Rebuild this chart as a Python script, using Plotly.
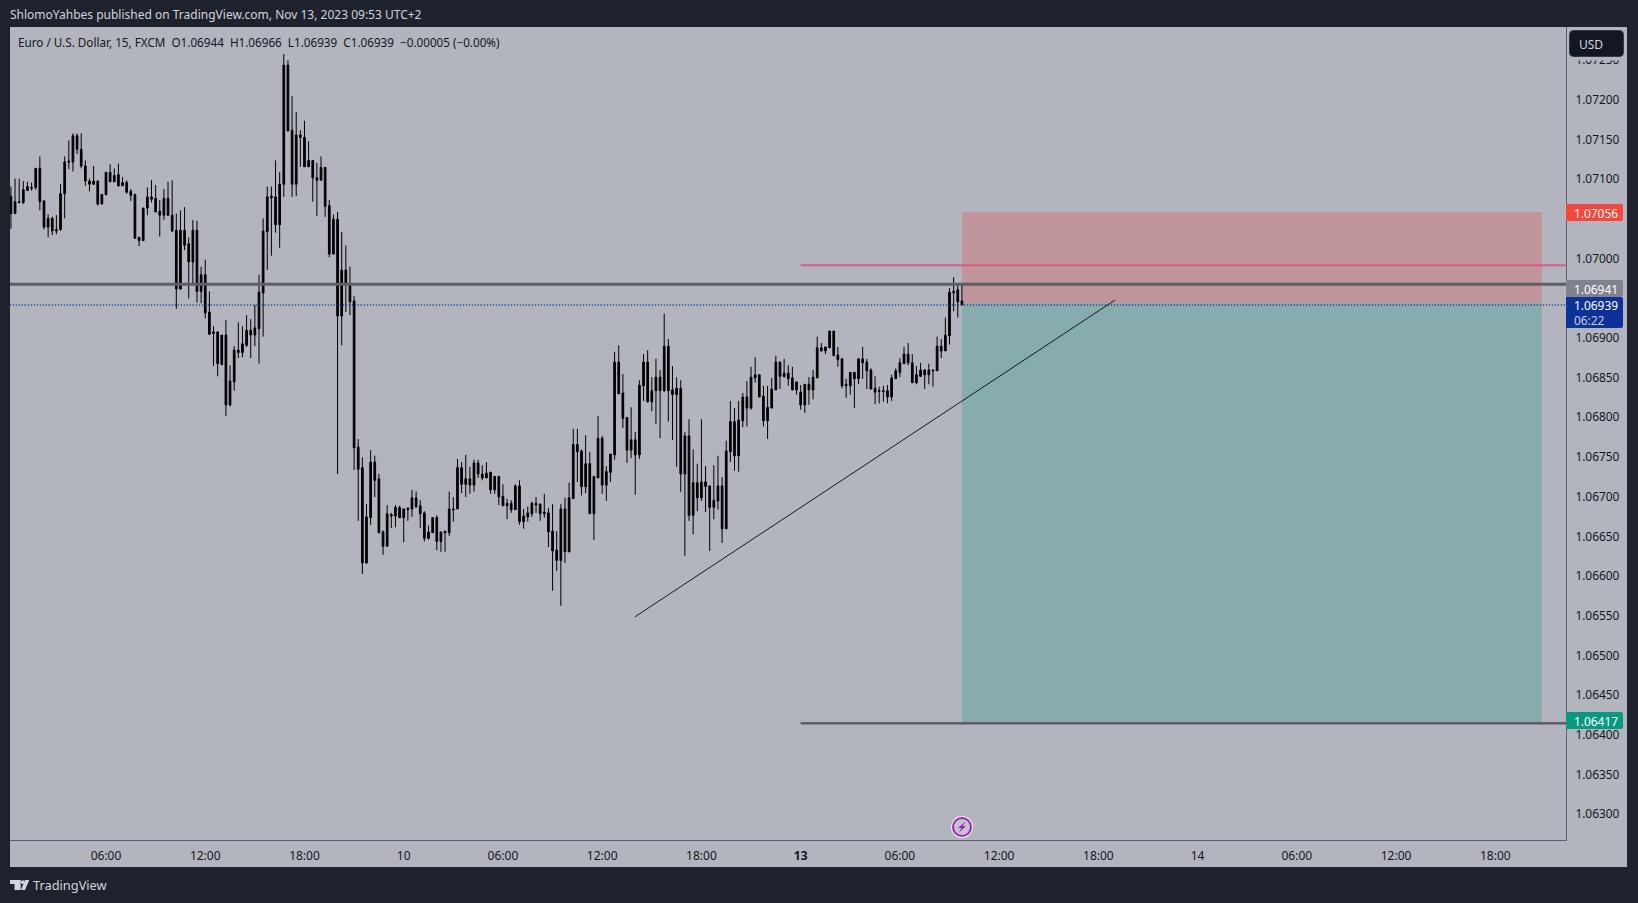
import plotly.graph_objects as go

# every candle on the source chart is black, so only the body edges can be read, not the direction
high = [
    1.07088, 1.07098, 1.07098, 1.07095, 1.07094, 1.07093, 1.07111, 1.07126, 1.07070, 1.07053,
    1.07050, 1.07052, 1.07091, 1.07126, 1.07146, 1.07155, 1.07155, 1.07155, 1.07121, 1.07098,
    1.07114, 1.07096, 1.07078, 1.07106, 1.07116, 1.07111, 1.07117, 1.07100, 1.07096, 1.07085,
    1.07079, 1.07025, 1.07061, 1.07087, 1.07096, 1.07090, 1.07071, 1.07085, 1.07094, 1.07096,
    1.07054, 1.07058, 1.07062, 1.07024, 1.07046, 1.07045, 1.06987, 1.06996, 1.06956, 1.06912,
    1.06905, 1.06901, 1.06920, 1.06863, 1.06887, 1.06917, 1.06912, 1.06926, 1.06921, 1.06939,
    1.06977, 1.07048, 1.07088, 1.07088, 1.07121, 1.07106, 1.07255, 1.07247, 1.07202, 1.07182,
    1.07159, 1.07171, 1.07145, 1.07121, 1.07118, 1.07126, 1.07113, 1.07071, 1.07053, 1.07056,
    1.07031, 1.07014, 1.06987, 1.06950, 1.06770, 1.06747, 1.06688, 1.06756, 1.06749, 1.06726,
    1.06655, 1.06687, 1.06677, 1.06687, 1.06686, 1.06682, 1.06684, 1.06706, 1.06704, 1.06693,
    1.06679, 1.06661, 1.06671, 1.06674, 1.06653, 1.06654, 1.06704, 1.06697, 1.06745, 1.06741,
    1.06750, 1.06735, 1.06744, 1.06744, 1.06737, 1.06741, 1.06729, 1.06723, 1.06723, 1.06713,
    1.06695, 1.06693, 1.06713, 1.06718, 1.06682, 1.06685, 1.06691, 1.06697, 1.06689, 1.06701,
    1.06683, 1.06688, 1.06654, 1.06688, 1.06696, 1.06715, 1.06783, 1.06783, 1.06757, 1.06775,
    1.06754, 1.06723, 1.06799, 1.06774, 1.06736, 1.06751, 1.06880, 1.06888, 1.06852, 1.06798,
    1.06810, 1.06779, 1.06844, 1.06877, 1.06882, 1.06848, 1.06871, 1.06857, 1.06928, 1.06896,
    1.06862, 1.06848, 1.06844, 1.06779, 1.06795, 1.06757, 1.06739, 1.06795, 1.06736, 1.06711,
    1.06737, 1.06749, 1.06722, 1.06768, 1.06818, 1.06809, 1.06818, 1.06828, 1.06843, 1.06861,
    1.06873, 1.06851, 1.06837, 1.06837, 1.06847, 1.06875, 1.06867, 1.06871, 1.06863, 1.06861,
    1.06842, 1.06838, 1.06839, 1.06848, 1.06857, 1.06899, 1.06891, 1.06886, 1.06906, 1.06906,
    1.06886, 1.06872, 1.06846, 1.06854, 1.06854, 1.06871, 1.06886, 1.06871, 1.06859, 1.06849,
    1.06836, 1.06837, 1.06838, 1.06851, 1.06859, 1.06872, 1.06886, 1.06891, 1.06877, 1.06862,
    1.06866, 1.06858, 1.06865, 1.06858, 1.06899, 1.06896, 1.06923, 1.06960, 1.06974, 1.06965,
    1.06966,
]
body_top = [
    1.07076, 1.07069, 1.07069, 1.07084, 1.07088, 1.07087, 1.07111, 1.07111, 1.07070, 1.07048,
    1.07048, 1.07034, 1.07079, 1.07119, 1.07120, 1.07152, 1.07152, 1.07135, 1.07114, 1.07095,
    1.07095, 1.07095, 1.07078, 1.07106, 1.07106, 1.07102, 1.07103, 1.07093, 1.07093, 1.07082,
    1.07078, 1.07024, 1.07061, 1.07075, 1.07075, 1.07073, 1.07057, 1.07073, 1.07073, 1.07052,
    1.07033, 1.07033, 1.07033, 1.07016, 1.07033, 1.07033, 1.06977, 1.06977, 1.06930, 1.06905,
    1.06905, 1.06901, 1.06901, 1.06843, 1.06882, 1.06882, 1.06890, 1.06907, 1.06907, 1.06910,
    1.06955, 1.07032, 1.07075, 1.07076, 1.07075, 1.07091, 1.07241, 1.07241, 1.07159, 1.07153,
    1.07153, 1.07150, 1.07121, 1.07121, 1.07099, 1.07112, 1.07112, 1.07064, 1.07047, 1.07047,
    1.06983, 1.06983, 1.06965, 1.06944, 1.06760, 1.06734, 1.06672, 1.06741, 1.06741, 1.06720,
    1.06653, 1.06676, 1.06675, 1.06684, 1.06684, 1.06682, 1.06683, 1.06696, 1.06696, 1.06686,
    1.06677, 1.06653, 1.06671, 1.06671, 1.06653, 1.06654, 1.06682, 1.06682, 1.06734, 1.06734,
    1.06720, 1.06720, 1.06740, 1.06740, 1.06726, 1.06727, 1.06728, 1.06723, 1.06723, 1.06698,
    1.06689, 1.06689, 1.06711, 1.06711, 1.06673, 1.06677, 1.06689, 1.06689, 1.06688, 1.06678,
    1.06677, 1.06654, 1.06630, 1.06682, 1.06682, 1.06696, 1.06763, 1.06763, 1.06755, 1.06739,
    1.06739, 1.06723, 1.06771, 1.06771, 1.06729, 1.06751, 1.06867, 1.06867, 1.06828, 1.06797,
    1.06769, 1.06769, 1.06838, 1.06867, 1.06867, 1.06831, 1.06848, 1.06848, 1.06887, 1.06887,
    1.06832, 1.06834, 1.06834, 1.06774, 1.06774, 1.06715, 1.06715, 1.06716, 1.06716, 1.06711,
    1.06693, 1.06711, 1.06711, 1.06755, 1.06792, 1.06792, 1.06794, 1.06823, 1.06823, 1.06848,
    1.06851, 1.06851, 1.06824, 1.06810, 1.06833, 1.06867, 1.06867, 1.06853, 1.06853, 1.06847,
    1.06842, 1.06829, 1.06839, 1.06839, 1.06848, 1.06885, 1.06885, 1.06886, 1.06906, 1.06906,
    1.06876, 1.06871, 1.06839, 1.06854, 1.06854, 1.06871, 1.06871, 1.06867, 1.06857, 1.06834,
    1.06831, 1.06831, 1.06831, 1.06847, 1.06856, 1.06866, 1.06877, 1.06877, 1.06866, 1.06851,
    1.06857, 1.06857, 1.06857, 1.06857, 1.06887, 1.06887, 1.06901, 1.06955, 1.06956, 1.06958,
    1.06944,
]
body_bottom = [
    1.07054, 1.07054, 1.07068, 1.07068, 1.07083, 1.07086, 1.07087, 1.07069, 1.07037, 1.07037,
    1.07032, 1.07032, 1.07034, 1.07079, 1.07119, 1.07119, 1.07135, 1.07114, 1.07095, 1.07091,
    1.07091, 1.07066, 1.07066, 1.07078, 1.07094, 1.07094, 1.07089, 1.07089, 1.07081, 1.07077,
    1.07023, 1.07020, 1.07020, 1.07061, 1.07072, 1.07056, 1.07052, 1.07052, 1.07052, 1.07032,
    1.06959, 1.06959, 1.07014, 1.06993, 1.06993, 1.06956, 1.06956, 1.06929, 1.06902, 1.06903,
    1.06865, 1.06864, 1.06813, 1.06813, 1.06842, 1.06879, 1.06879, 1.06888, 1.06901, 1.06901,
    1.06909, 1.06954, 1.07031, 1.07074, 1.07040, 1.07040, 1.07091, 1.07158, 1.07091, 1.07091,
    1.07150, 1.07113, 1.07113, 1.07099, 1.07096, 1.07096, 1.07063, 1.07003, 1.07003, 1.06925,
    1.06925, 1.06964, 1.06943, 1.06759, 1.06732, 1.06614, 1.06614, 1.06671, 1.06718, 1.06652,
    1.06635, 1.06635, 1.06673, 1.06673, 1.06671, 1.06671, 1.06681, 1.06682, 1.06685, 1.06676,
    1.06645, 1.06645, 1.06652, 1.06641, 1.06641, 1.06652, 1.06652, 1.06681, 1.06682, 1.06713,
    1.06713, 1.06712, 1.06712, 1.06726, 1.06721, 1.06721, 1.06706, 1.06706, 1.06697, 1.06686,
    1.06686, 1.06681, 1.06681, 1.06666, 1.06666, 1.06672, 1.06676, 1.06687, 1.06676, 1.06676,
    1.06653, 1.06629, 1.06617, 1.06617, 1.06628, 1.06628, 1.06695, 1.06754, 1.06710, 1.06710,
    1.06676, 1.06676, 1.06721, 1.06712, 1.06712, 1.06728, 1.06750, 1.06827, 1.06796, 1.06756,
    1.06756, 1.06750, 1.06750, 1.06837, 1.06817, 1.06817, 1.06831, 1.06831, 1.06831, 1.06831,
    1.06826, 1.06826, 1.06726, 1.06726, 1.06674, 1.06674, 1.06696, 1.06696, 1.06710, 1.06684,
    1.06684, 1.06692, 1.06657, 1.06657, 1.06754, 1.06749, 1.06749, 1.06793, 1.06809, 1.06809,
    1.06847, 1.06823, 1.06793, 1.06793, 1.06809, 1.06832, 1.06849, 1.06849, 1.06846, 1.06832,
    1.06832, 1.06813, 1.06813, 1.06832, 1.06832, 1.06847, 1.06881, 1.06881, 1.06885, 1.06875,
    1.06870, 1.06837, 1.06837, 1.06837, 1.06846, 1.06846, 1.06866, 1.06856, 1.06833, 1.06829,
    1.06830, 1.06830, 1.06823, 1.06823, 1.06846, 1.06854, 1.06865, 1.06866, 1.06841, 1.06841,
    1.06849, 1.06851, 1.06851, 1.06856, 1.06856, 1.06881, 1.06881, 1.06900, 1.06954, 1.06943,
    1.06939,
]
low = [
    1.07035, 1.07054, 1.07067, 1.07066, 1.07083, 1.07083, 1.07084, 1.07058, 1.07034, 1.07024,
    1.07027, 1.07028, 1.07032, 1.07048, 1.07110, 1.07107, 1.07129, 1.07111, 1.07089, 1.07082,
    1.07090, 1.07064, 1.07066, 1.07077, 1.07094, 1.07094, 1.07088, 1.07089, 1.07079, 1.07070,
    1.07022, 1.07013, 1.07020, 1.07052, 1.07068, 1.07056, 1.07025, 1.07046, 1.07051, 1.07031,
    1.06934, 1.06958, 1.07008, 1.06947, 1.06964, 1.06942, 1.06941, 1.06922, 1.06901, 1.06862,
    1.06849, 1.06863, 1.06799, 1.06811, 1.06831, 1.06872, 1.06873, 1.06886, 1.06872, 1.06887,
    1.06865, 1.06899, 1.06983, 1.07001, 1.07030, 1.07011, 1.07075, 1.07158, 1.07075, 1.07076,
    1.07113, 1.07113, 1.07113, 1.07069, 1.07051, 1.07096, 1.07050, 1.06999, 1.07003, 1.06726,
    1.06888, 1.06930, 1.06926, 1.06731, 1.06667, 1.06600, 1.06613, 1.06662, 1.06697, 1.06652,
    1.06624, 1.06635, 1.06658, 1.06659, 1.06671, 1.06640, 1.06667, 1.06672, 1.06683, 1.06658,
    1.06641, 1.06643, 1.06652, 1.06630, 1.06628, 1.06628, 1.06648, 1.06666, 1.06682, 1.06702,
    1.06697, 1.06701, 1.06704, 1.06721, 1.06718, 1.06721, 1.06701, 1.06701, 1.06687, 1.06686,
    1.06669, 1.06677, 1.06681, 1.06662, 1.06657, 1.06666, 1.06672, 1.06677, 1.06667, 1.06671,
    1.06634, 1.06579, 1.06604, 1.06560, 1.06614, 1.06628, 1.06695, 1.06716, 1.06699, 1.06702,
    1.06676, 1.06643, 1.06721, 1.06701, 1.06692, 1.06716, 1.06744, 1.06827, 1.06784, 1.06740,
    1.06746, 1.06700, 1.06745, 1.06818, 1.06816, 1.06805, 1.06789, 1.06771, 1.06829, 1.06792,
    1.06769, 1.06735, 1.06703, 1.06623, 1.06667, 1.06650, 1.06679, 1.06692, 1.06678, 1.06629,
    1.06669, 1.06681, 1.06639, 1.06657, 1.06741, 1.06730, 1.06729, 1.06785, 1.06786, 1.06807,
    1.06841, 1.06823, 1.06786, 1.06770, 1.06809, 1.06832, 1.06833, 1.06847, 1.06837, 1.06831,
    1.06826, 1.06807, 1.06803, 1.06813, 1.06820, 1.06847, 1.06880, 1.06877, 1.06885, 1.06875,
    1.06861, 1.06834, 1.06822, 1.06826, 1.06809, 1.06839, 1.06846, 1.06833, 1.06833, 1.06814,
    1.06815, 1.06817, 1.06815, 1.06818, 1.06846, 1.06848, 1.06865, 1.06863, 1.06841, 1.06839,
    1.06848, 1.06833, 1.06839, 1.06836, 1.06856, 1.06872, 1.06881, 1.06889, 1.06931, 1.06923,
    1.06939,
]
bars = list(range(len(high)))

time_ticks = [23, 47, 71, 95, 119, 143, 167, 191, 215, 239, 263, 287, 311, 335, 359]
time_labels = ['06:00', '12:00', '18:00', '10', '06:00', '12:00', '18:00', '<b>13</b>',
               '06:00', '12:00', '18:00', '14', '06:00', '12:00', '18:00']
# 1.06950 and 1.07050 sit behind the position labels on the source, so they are left out
price_ticks = [1.063, 1.0635, 1.064, 1.0645, 1.065, 1.0655, 1.066, 1.0665, 1.067, 1.0675,
               1.068, 1.0685, 1.069, 1.07, 1.071, 1.0715, 1.072, 1.0725]

take_profit = 1.06412
entry = 1.06941
stop_loss = 1.07056
last_price = 1.06939
grey_level = 1.06965
pink_level = 1.06989
position_start = 230
position_end = 370.3
level_start = 191
trend_x = [150.9, 267]
trend_y = [1.06546, 1.06945]

BG = '#b2b5be'
DARK = '#1e222d'
TEXT = '#131722'
FONT = 'Noto Sans'

L, R, T, B = 10, 1566, 27, 840


def px(x):
    return (x - L) / (R - L)


def py(y):
    return (B - y) / (B - T)


def label_path(x0, y0, x1, y1, r=2):
    return (f'M {px(x0)} {py(y0)} L {px(x1 - r)} {py(y0)} '
            f'Q {px(x1)} {py(y0)} {px(x1)} {py(y0 + r)} '
            f'L {px(x1)} {py(y1 - r)} Q {px(x1)} {py(y1)} {px(x1 - r)} {py(y1)} '
            f'L {px(x0)} {py(y1)} Z')


def round_path(x0, y0, x1, y1, r=4):
    return (f'M {px(x0 + r)} {py(y0)} L {px(x1 - r)} {py(y0)} '
            f'Q {px(x1)} {py(y0)} {px(x1)} {py(y0 + r)} '
            f'L {px(x1)} {py(y1 - r)} Q {px(x1)} {py(y1)} {px(x1 - r)} {py(y1)} '
            f'L {px(x0 + r)} {py(y1)} Q {px(x0)} {py(y1)} {px(x0)} {py(y1 - r)} '
            f'L {px(x0)} {py(y0 + r)} Q {px(x0)} {py(y0)} {px(x0 + r)} {py(y0)} Z')


def poly_path(points):
    return 'M ' + ' L '.join(f'{px(x)} {py(y)}' for x, y in points) + ' Z'


def paper_path(path, color, line='rgba(0,0,0,0)', width=0, layer='above'):
    return dict(type='path', xref='paper', yref='paper', path=path, fillcolor=color,
                line=dict(color=line, width=width), layer=layer)


def paper_rect(x0, y0, x1, y1, color, layer='below'):
    return dict(type='rect', xref='paper', yref='paper', x0=px(x0), x1=px(x1), y0=py(y0), y1=py(y1),
                fillcolor=color, line=dict(width=0), layer=layer)


def level(y, x0, x1, color, width, dash='solid'):
    return dict(type='line', xref='x', yref='y', x0=x0, x1=x1, y0=y, y1=y,
                line=dict(color=color, width=width, dash=dash), layer='above')


def text(x, y, s, color=TEXT, size=12, anchor='left'):
    return dict(xref='paper', yref='paper', x=px(x), y=py(y), text=s, showarrow=False,
                xanchor=anchor, yanchor='middle', font=dict(family=FONT, size=size, color=color),
                borderpad=0, borderwidth=0)


fig = go.Figure()
fig.add_trace(go.Candlestick(
    x=bars, open=body_top, high=high, low=low, close=body_bottom,
    increasing=dict(line=dict(color='#000000', width=1), fillcolor='#000000'),
    decreasing=dict(line=dict(color='#000000', width=1), fillcolor='#000000'),
    whiskerwidth=0, showlegend=False, hoverinfo='skip'))

shapes = [
    paper_rect(R, T, 1627, 867, BG),
    paper_rect(L, B, 1627, 867, BG),
    dict(type='rect', xref='x', yref='y', x0=position_start, x1=position_end, y0=entry, y1=stop_loss,
         fillcolor='#c09599', line=dict(width=0), layer='below'),
    dict(type='rect', xref='x', yref='y', x0=position_start, x1=position_end, y0=take_profit, y1=entry,
         fillcolor='#86acae', line=dict(width=0), layer='below'),
    level(last_price, -1, 376.1, '#0a2a90', 1.5, '1px,2px'),
    level(grey_level, -1, 376.1, '#5d5e66', 3),
    level(pink_level, level_start, 376.1, '#dc5a85', 2),
    level(take_profit, level_start, 376.1, '#5d5e66', 2.5),
    dict(type='line', xref='x', yref='y', x0=trend_x[0], x1=trend_x[1], y0=trend_y[0], y1=trend_y[1],
         line=dict(color='#16181f', width=1), layer='above'),
    # price axis labels
    paper_path(label_path(R, 204, 1623, 221), '#f7463c'),
    paper_path(label_path(R, 280, 1623, 297), '#80828d'),
    paper_path(label_path(R, 297, 1623, 328), '#0c3299'),
    paper_path(label_path(R, 712, 1623, 729), '#089981'),
    # strip around the currency button, hides most of the 1.07250 tick
    paper_rect(R + 1, T, 1627, 60.5, BG, layer='above'),
    paper_path(round_path(1569.5, 30.5, 1623.5, 56.5), '#131722', '#363a45', 1),
    # event marker
    dict(type='circle', xref='paper', yref='paper', x0=px(951), x1=px(973), y0=py(838), y1=py(816),
         fillcolor='#f0eef3', line=dict(width=0), layer='above'),
    dict(type='circle', xref='paper', yref='paper', x0=px(953), x1=px(971), y0=py(836), y1=py(818),
         fillcolor='#c4c3cf', line=dict(color='#9c27b0', width=2), layer='above'),
    paper_path(poly_path([(966, 821), (958, 828), (961.5, 828), (958.5, 833), (966, 826), (962.5, 826)]), '#9c27b0'),
    # TradingView mark
    paper_path(poly_path([(10, 880), (20.7, 880), (20.7, 890), (14.5, 890), (14.5, 884), (10, 884)]), '#d1d4dc', layer='below'),
    dict(type='circle', xref='paper', yref='paper', x0=px(20.8), x1=px(24.6), y0=py(884), y1=py(880.2),
         fillcolor='#d1d4dc', line=dict(width=0), layer='below'),
    paper_path(poly_path([(25, 880), (29.3, 880), (25, 890), (20.9, 890)]), '#d1d4dc', layer='below'),
]

annotations = [
    text(10, 15, 'ShlomoYahbes published on TradingView.com, Nov 13, 2023 09:53 UTC+2', '#d1d4dc'),
    text(18, 42.5, 'Euro / U.S. Dollar, 15, FXCM&#160;&#160;O1.06944&#160;&#160;H1.06966&#160;&#160;'
                   'L1.06939&#160;&#160;C1.06939&#160;&#160;−0.00005 (−0.00%)', size=11.7),
    text(1579, 44, 'USD', '#d1d4dc'),
    text(1574, 212.5, '1.07056', '#ffffff', 11.9),
    text(1574, 288.5, '1.06941', '#ffffff', 11.9),
    text(1574, 305, '1.06939', '#ffffff', 11.9),
    text(1574, 319.5, '06:22', '#c5cfe8', 11.9),
    text(1574, 720.5, '1.06417', '#ffffff', 11.9),
    text(33, 885, 'TradingView', '#d1d4dc', 12.8),
]

fig.update_layout(
    width=1638, height=903,
    margin=dict(l=L, r=1638 - R, t=T, b=903 - B, pad=0),
    paper_bgcolor=DARK, plot_bgcolor=BG,
    showlegend=False, boxgap=0.42,
    shapes=shapes, annotations=annotations,
    font=dict(family=FONT, size=12, color=TEXT),
    xaxis=dict(range=[-0.22, 376.1], rangeslider=dict(visible=False), showgrid=False, zeroline=False,
               tickmode='array', tickvals=time_ticks, ticktext=time_labels, tickangle=0,
               ticks='outside', ticklen=5, tickcolor='rgba(0,0,0,0)',
               showline=True, linecolor='#5f626e', linewidth=1,
               tickfont=dict(family=FONT, size=12, color=TEXT)),
    yaxis=dict(range=[1.06265, 1.07289], side='right', showgrid=False, zeroline=False,
               tickmode='array', tickvals=price_ticks, ticktext=[f'{p:.5f}' for p in price_ticks],
               ticks='outside', ticklen=6, tickcolor='rgba(0,0,0,0)', ticklabelshift=2,
               showline=True, linecolor='#5f626e', linewidth=1,
               tickfont=dict(family=FONT, size=11.9, color=TEXT)),
)

fig.write_html('out.html', config={'displayModeBar': False},
               post_script="document.body.style.margin='0';")
